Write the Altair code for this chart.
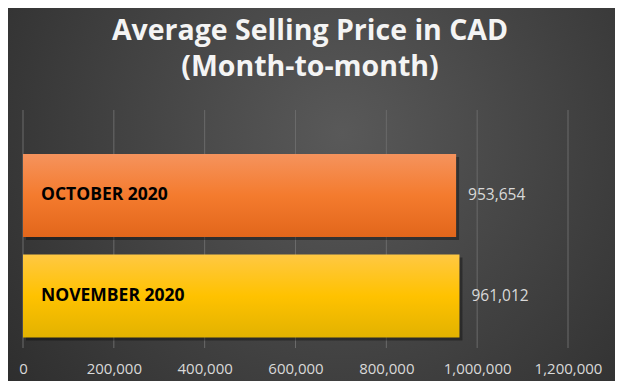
import altair as alt
import pandas as pd

months = ["OCTOBER 2020", "NOVEMBER 2020"]
prices = [953654, 961012]
tick_values = [0, 200000, 400000, 600000, 800000, 1000000, 1200000]
title_lines = ["Average Selling Price in CAD", "(Month-to-month)"]

df = pd.DataFrame({"month": months, "price": prices})
ticks_df = pd.DataFrame({"price": tick_values})

W, H = 545, 238
PL, PT, PR, PB = 15, 102, 47, 33

base = alt.Chart(df)

y_enc = alt.Y("month:N", sort=months, axis=None,
              scale=alt.Scale(paddingInner=0.174, paddingOuter=0.271, align=0.807))
x_scale = alt.Scale(domain=[0, 1200000], nice=False)
x_axis = alt.Axis(values=tick_values, format=",", labelExpr="format(datum.value, ',')",
                  title=None, grid=False, domain=False, ticks=False, zindex=1,
                  labelOverlap=False, labelBound=False, labelFlush=False,
                  labelColor="#d9d9d9", labelFontSize=15,
                  labelFont="Open Sans", labelPadding=13)
x_enc = alt.X("price:Q", scale=x_scale, axis=x_axis)

bg = alt.Chart(alt.Data(values=[{"a": 1}])).mark_rect(
    fill=alt.Gradient(gradient="radial", x1=0.55, y1=0.4, r1=0, x2=0.55, y2=0.4, r2=0.75,
                      stops=[alt.GradientStop(color="#595959", offset=0),
                             alt.GradientStop(color="#2a2a2a", offset=1)])
).encode(x=alt.value(-PL), x2=alt.value(W + PR), y=alt.value(-PT), y2=alt.value(H + PB))

grid = alt.Chart(ticks_df).mark_rule(color="#6a6a6a", strokeWidth=1).encode(x=x_enc)

shadow = base.mark_bar(color="#000000", opacity=0.35, xOffset=3, yOffset=3).encode(
    x=x_enc, y=y_enc)

orange = base.transform_filter(alt.datum.month == months[0]).mark_bar(
    fill=alt.Gradient(gradient="linear", x1=0, y1=0, x2=0, y2=1,
                      stops=[alt.GradientStop(color="#F5935D", offset=0),
                             alt.GradientStop(color="#F47B2E", offset=0.5),
                             alt.GradientStop(color="#E2661B", offset=1)])
).encode(x=x_enc, y=y_enc)

yellow = base.transform_filter(alt.datum.month == months[1]).mark_bar(
    fill=alt.Gradient(gradient="linear", x1=0, y1=0, x2=0, y2=1,
                      stops=[alt.GradientStop(color="#FFC843", offset=0),
                             alt.GradientStop(color="#FFC200", offset=0.5),
                             alt.GradientStop(color="#E2B200", offset=1)])
).encode(x=x_enc, y=y_enc)

cat_text = base.mark_text(align="left", baseline="middle", dx=18, font="Open Sans",
                          fontWeight="bold", fontSize=17.5, color="#000000").encode(
    x=alt.X(datum=0, type="quantitative", scale=x_scale, axis=x_axis),
    y=y_enc, text="month:N")

val_text = base.mark_text(align="left", baseline="middle", dx=12, font="Open Sans",
                          fontSize=15.5, color="#d9d9d9").encode(
    x=x_enc, y=y_enc, text=alt.Text("price:Q", format=","))

title_layers = []
for line, yv in zip(title_lines, [-70, -34]):
    title_layers.append(
        alt.Chart(alt.Data(values=[{"a": 1}])).mark_text(
            align="center", baseline="alphabetic", font="Open Sans",
            fontWeight="bold", fontSize=28.5, color="#f4f4f4").encode(
            x=alt.value(287), y=alt.value(yv), text=alt.value(line))
    )

chart = alt.layer(bg, grid, shadow, orange, yellow, cat_text, val_text, *title_layers).properties(
    width=W, height=H,
    padding={"left": PL, "top": PT, "right": PR, "bottom": PB},
    autosize=alt.AutoSizeParams(type="none"),
    background="#2e2e2e",
).configure_view(stroke=None)

chart.save("out.html", embed_options={"renderer": "svg", "actions": False})
